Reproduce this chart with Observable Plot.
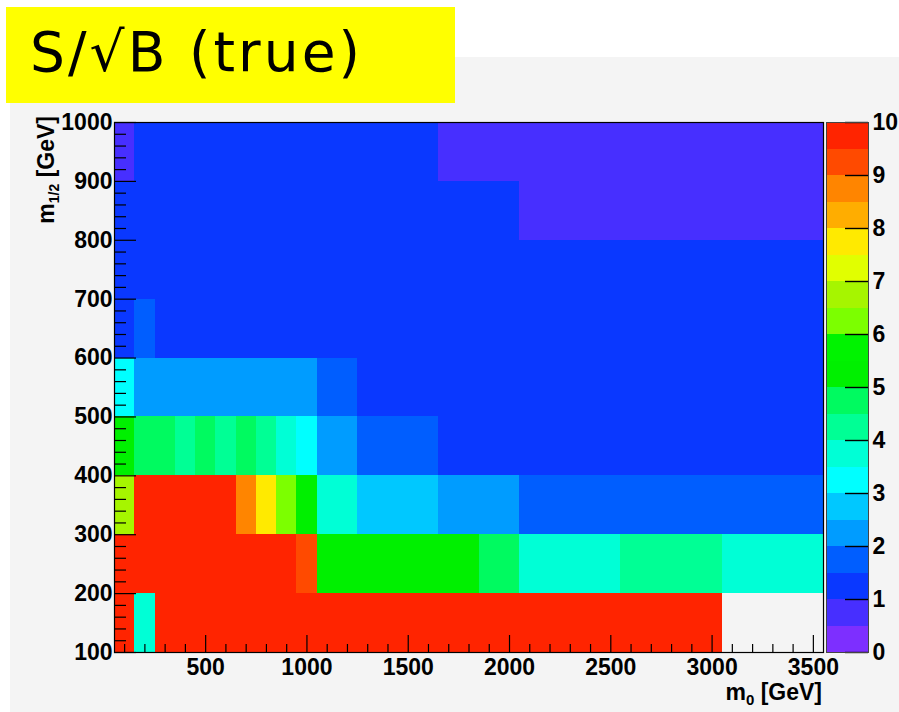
<!DOCTYPE html>
<html>
<head>
<meta charset="utf-8">
<script src="https://cdn.jsdelivr.net/npm/d3@7"></script>
<script src="https://cdn.jsdelivr.net/npm/@observablehq/plot@0.6"></script>
<style>
  body { margin: 0; background: #ffffff; width: 899px; height: 712px; position: relative; overflow: hidden; }
  #canvas { position: absolute; left: 10px; top: 57px; width: 889px; height: 655px; background: #f4f4f4; }
  #title { position: absolute; left: 6px; top: 7px; width: 449px; height: 96px; background: #ffff00; z-index: 3; }
  #main, #bar { position: absolute; top: 0; }
  #main { left: 0; z-index: 1; }
  #bar { left: 820px; z-index: 2; }
</style>
</head>
<body>
<div id="canvas"></div>
<div id="title">
  <svg width="449" height="96">
    <text x="24" y="64" font-family="DejaVu Sans, sans-serif" font-size="55" textLength="330" lengthAdjust="spacing" fill="#000">S/√B (true)</text>
  </svg>
</div>
<div id="main"></div>
<div id="bar"></div>
<script>
// m0 bin centres (GeV), 100 GeV wide bins
const m0 = [100, 200, 300, 400, 500, 600, 700, 800, 900, 1000,
            1100, 1200, 1300, 1400, 1500, 1600, 1700, 1800, 1900, 2000,
            2100, 2200, 2300, 2400, 2500, 2600, 2700, 2800, 2900, 3000,
            3100, 3200, 3300, 3400, 3500];

// S/sqrt(B) per m_1/2 row (bin centre in GeV), one value per m0 bin; null = empty bin
const row950 = [0.8, 1.3, 1.3, 1.3, 1.3,   1.3, 1.3, 1.3, 1.3, 1.3,   1.3, 1.3, 1.3, 1.3, 1.3,
                1.3, 0.8, 0.8, 0.8, 0.8,   0.8, 0.8, 0.8, 0.8, 0.8,   0.8, 0.8, 0.8, 0.8, 0.8,
                0.8, 0.8, 0.8, 0.8, 0.8];
const row850 = [1.3, 1.3, 1.3, 1.3, 1.3,   1.3, 1.3, 1.3, 1.3, 1.3,   1.3, 1.3, 1.3, 1.3, 1.3,
                1.3, 1.3, 1.3, 1.3, 1.3,   0.8, 0.8, 0.8, 0.8, 0.8,   0.8, 0.8, 0.8, 0.8, 0.8,
                0.8, 0.8, 0.8, 0.8, 0.8];
const row750 = [1.3, 1.3, 1.3, 1.3, 1.3,   1.3, 1.3, 1.3, 1.3, 1.3,   1.3, 1.3, 1.3, 1.3, 1.3,
                1.3, 1.3, 1.3, 1.3, 1.3,   1.3, 1.3, 1.3, 1.3, 1.3,   1.3, 1.3, 1.3, 1.3, 1.3,
                1.3, 1.3, 1.3, 1.3, 1.3];
const row650 = [1.3, 1.8, 1.3, 1.3, 1.3,   1.3, 1.3, 1.3, 1.3, 1.3,   1.3, 1.3, 1.3, 1.3, 1.3,
                1.3, 1.3, 1.3, 1.3, 1.3,   1.3, 1.3, 1.3, 1.3, 1.3,   1.3, 1.3, 1.3, 1.3, 1.3,
                1.3, 1.3, 1.3, 1.3, 1.3];
const row550 = [3.2, 2.3, 2.3, 2.3, 2.3,   2.3, 2.3, 2.3, 2.3, 2.3,   1.8, 1.8, 1.3, 1.3, 1.3,
                1.3, 1.3, 1.3, 1.3, 1.3,   1.3, 1.3, 1.3, 1.3, 1.3,   1.3, 1.3, 1.3, 1.3, 1.3,
                1.3, 1.3, 1.3, 1.3, 1.3];
const row450 = [5.2, 4.7, 4.7, 4.3, 4.7,   4.3, 4.7, 4.3, 3.8, 3.2,   2.3, 2.3, 1.8, 1.8, 1.8,
                1.8, 1.3, 1.3, 1.3, 1.3,   1.3, 1.3, 1.3, 1.3, 1.3,   1.3, 1.3, 1.3, 1.3, 1.3,
                1.3, 1.3, 1.3, 1.3, 1.3];
const row350 = [6.8, 9.8, 9.8, 9.8, 9.8,   9.8, 8.8, 7.8, 6.2, 5.2,   3.8, 3.8, 2.8, 2.8, 2.8,
                2.8, 2.3, 2.3, 2.3, 2.3,   1.8, 1.8, 1.8, 1.8, 1.8,   1.8, 1.8, 1.8, 1.8, 1.8,
                1.8, 1.8, 1.8, 1.8, 1.8];
const row250 = [9.8, 9.8, 9.8, 9.8, 9.8,   9.8, 9.8, 9.8, 9.8, 9.2,   5.2, 5.2, 5.2, 5.2, 5.2,
                5.2, 5.2, 5.2, 4.7, 4.7,   3.8, 3.8, 3.8, 3.8, 3.8,   4.3, 4.3, 4.3, 4.3, 4.3,
                3.8, 3.8, 3.8, 3.8, 3.8];
const row150 = [9.8, 3.8, 9.8, 9.8, 9.8,   9.8, 9.8, 9.8, 9.8, 9.8,   9.8, 9.8, 9.8, 9.8, 9.8,
                9.8, 9.8, 9.8, 9.8, 9.8,   9.8, 9.8, 9.8, 9.8, 9.8,   9.8, 9.8, 9.8, 9.8, 9.8,
                null, null, null, null, null];

const m12 = [950, 850, 750, 650, 550, 450, 350, 250, 150];
const rows = [row950, row850, row750, row650, row550, row450, row350, row250, row150];

// 20-level rainbow palette, 0 to 10 in steps of 0.5
const levels = [0, 0.5, 1, 1.5, 2, 2.5, 3, 3.5, 4, 4.5, 5, 5.5, 6, 6.5, 7, 7.5, 8, 8.5, 9, 9.5, 10];
const palette = ["#7d2fff", "#472fff", "#0a38ff", "#005eff", "#009cff",
                 "#00c8ff", "#00ffff", "#00ffd6", "#00ff95", "#00fa60",
                 "#00f000", "#00f300", "#7cff00", "#a6f500", "#e1ff00",
                 "#ffea00", "#ffad00", "#ff8500", "#ff4a00", "#ff2400"];

// axis ticks
const xMajor = [500, 1000, 1500, 2000, 2500, 3000, 3500];
const xMinor = [100, 200, 300, 400, 600, 700, 800, 900, 1100, 1200, 1300, 1400, 1600, 1700, 1800, 1900,
                2100, 2200, 2300, 2400, 2600, 2700, 2800, 2900, 3100, 3200, 3300, 3400];
const yMajor = [100, 200, 300, 400, 500, 600, 700, 800, 900, 1000];
const yMinor = d3.range(100, 1000, 20).filter(v => v % 100 !== 0);
const zMajor = [0, 1, 2, 3, 4, 5, 6, 7, 8, 9, 10];

const cells = [];
rows.forEach((row, j) => row.forEach((v, i) => {
  if (v !== null) cells.push({m0: m0[i], m12: m12[j], v});
}));

const colorScale = {type: "threshold", domain: levels.slice(1, -1), range: palette};
const binW = 100, binH = 100;

const W = 899, H = 712;
const mL = 114, mR = 76, mT = 122, mB = 60;
const frameW = W - mL - mR, frameH = H - mT - mB;
const font = "Liberation Sans, Arial, Helvetica, sans-serif";

const chart = Plot.plot({
  width: W, height: H,
  marginLeft: mL, marginRight: mR, marginTop: mT, marginBottom: mB,
  style: {background: "none", fontFamily: font, fontWeight: "bold", color: "#000"},
  x: {domain: [50, 3550]},
  y: {domain: [100, 1000]},
  color: colorScale,
  marks: [
    Plot.rect(cells, {
      x1: d => d.m0 - binW / 2, x2: d => d.m0 + binW / 2,
      y1: d => d.m12 - binH / 2, y2: d => d.m12 + binH / 2,
      fill: "v", shapeRendering: "crispEdges"
    }),
    Plot.ruleX(xMajor, {x: d => d, insetTop: frameH - 17, stroke: "#000", strokeWidth: 1.2}),
    Plot.ruleX(xMinor, {x: d => d, insetTop: frameH - 8, stroke: "#000", strokeWidth: 1.2}),
    Plot.ruleY(yMajor, {y: d => d, insetRight: frameW - 22, stroke: "#000", strokeWidth: 1.2}),
    Plot.ruleY(yMinor, {y: d => d, insetRight: frameW - 12, stroke: "#000", strokeWidth: 1.2}),
    Plot.frame({stroke: "#000", strokeWidth: 1.2}),
    Plot.axisX({ticks: xMajor, tickSize: 0, tickPadding: 6, fontSize: 23, fontWeight: "bold",
                tickFormat: d3.format("d"), label: null}),
    Plot.axisY({ticks: yMajor, tickSize: 0, tickPadding: 2, fontSize: 23, fontWeight: "bold",
                tickFormat: d3.format("d"), label: null})
  ]
});
document.getElementById("main").appendChild(chart);

// axis titles with subscripts
const svg = d3.select(chart);
const xt = svg.append("text")
  .attr("x", W - mR - 1).attr("y", 700)
  .attr("text-anchor", "end")
  .attr("font-family", font).attr("font-weight", "bold").attr("font-size", 23).attr("fill", "#000");
xt.append("tspan").text("m");
xt.append("tspan").attr("font-size", 15).attr("dy", 5).text("0");
xt.append("tspan").attr("dy", -5).text(" [GeV]");

const yt = svg.append("text")
  .attr("transform", "translate(54,116) rotate(-90)")
  .attr("text-anchor", "end")
  .attr("font-family", font).attr("font-weight", "bold").attr("font-size", 23).attr("fill", "#000");
yt.append("tspan").text("m");
yt.append("tspan").attr("font-size", 14).attr("dy", 5).text("1/2");
yt.append("tspan").attr("dy", -5).text(" [GeV]");

// colour bar
const bands = levels.slice(0, -1).map((lo, k) => ({lo, hi: levels[k + 1], mid: (lo + levels[k + 1]) / 2}));
const barW = 79, barL = 6, barR = 31;
const bar = Plot.plot({
  width: barW, height: H,
  marginLeft: barL, marginRight: barR, marginTop: mT, marginBottom: mB,
  style: {background: "none", fontFamily: font, fontWeight: "bold", color: "#000"},
  x: {axis: null},
  y: {domain: [0, 10]},
  color: colorScale,
  marks: [
    Plot.rect(bands, {y1: "lo", y2: "hi", fill: "mid", shapeRendering: "crispEdges"}),
    Plot.ruleY(zMajor, {y: d => d, insetLeft: barW - barL - barR - 23, stroke: "#000", strokeWidth: 1.4}),
    Plot.frame({stroke: "#444", strokeWidth: 1}),
    Plot.axisY({anchor: "right", ticks: zMajor, tickSize: 0, tickPadding: 4, fontSize: 23, fontWeight: "bold",
                tickFormat: d3.format("d"), label: null})
  ]
});
document.getElementById("bar").appendChild(bar);
</script>
</body>
</html>
